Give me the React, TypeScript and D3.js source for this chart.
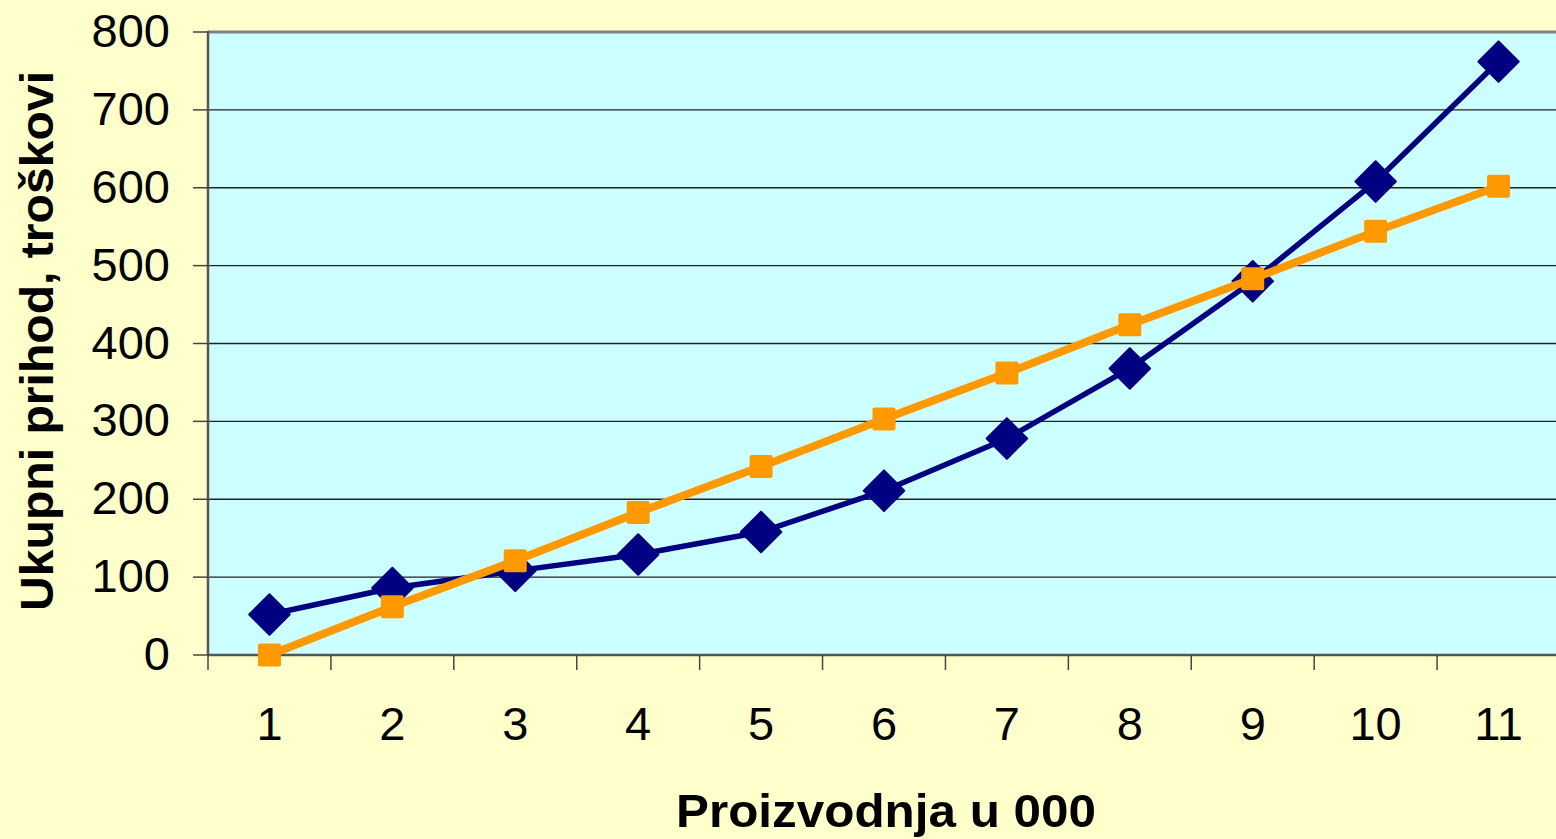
import React from 'react';
import * as d3 from 'd3';

const categories = ['1', '2', '3', '4', '5', '6', '7', '8', '9', '10', '11'];
const costs = [52, 86, 108, 129, 158, 211, 278, 368, 480, 608, 762];
const revenue = [0, 62, 121, 183, 242, 303, 362, 424, 483, 544, 602];
const yTicks = [0, 100, 200, 300, 400, 500, 600, 700, 800];

const W = 1556;
const H = 839;
const plot = { left: 208, top: 32, right: 1560, bottom: 655 };

const App: React.FC = () => {
  const x = d3
    .scaleBand<string>()
    .domain(categories)
    .range([plot.left, plot.right]);
  const y = d3.scaleLinear().domain([0, 800]).range([plot.bottom, plot.top]);
  const cx = (c: string) => (x(c) || 0) + x.bandwidth() / 2;

  const line = d3
    .line<number>()
    .x((_, i) => cx(categories[i]))
    .y((d) => y(d));

  const font = 'Arial, "Liberation Sans", sans-serif';

  return (
    <svg
      width={W}
      height={H}
      style={{ position: 'fixed', left: 0, top: 0, background: '#FFFFCC' }}
    >
      <rect x={0} y={0} width={W} height={H} fill="#FFFFCC" />
      <rect
        x={plot.left}
        y={plot.top}
        width={plot.right - plot.left}
        height={plot.bottom - plot.top}
        fill="#CCFFFF"
      />
      {/* gridlines */}
      {yTicks.slice(1, -1).map((t) => (
        <line
          key={'g' + t}
          x1={plot.left}
          x2={plot.right}
          y1={y(t)}
          y2={y(t)}
          stroke="#222"
          strokeWidth={1.3}
        />
      ))}
      {/* top border */}
      <line x1={plot.left} x2={plot.right} y1={plot.top} y2={plot.top} stroke="#808080" strokeWidth={3} />
      {/* y axis */}
      <line x1={plot.left} x2={plot.left} y1={plot.top - 1} y2={plot.bottom} stroke="#555" strokeWidth={2.5} />
      {yTicks.map((t) => (
        <g key={'y' + t}>
          <line x1={plot.left - 15} x2={plot.left} y1={y(t)} y2={y(t)} stroke="#444" strokeWidth={1.5} />
          <text
            x={170}
            y={y(t) + 15}
            textAnchor="end"
            fontFamily={font}
            fontSize={47}
            fill="#000"
          >
            {t}
          </text>
        </g>
      ))}
      {/* x axis */}
      <line x1={plot.left} x2={plot.right} y1={plot.bottom} y2={plot.bottom} stroke="#555" strokeWidth={2.5} />
      {categories.map((c) => (
        <line
          key={'xt' + c}
          x1={x(c) || 0}
          x2={x(c) || 0}
          y1={plot.bottom}
          y2={plot.bottom + 15}
          stroke="#444"
          strokeWidth={1.5}
        />
      ))}
      {categories.map((c) => (
        <text
          key={'xl' + c}
          x={cx(c)}
          y={740}
          textAnchor="middle"
          fontFamily={font}
          fontSize={47}
          fill="#000"
        >
          {c}
        </text>
      ))}
      {/* series: costs */}
      <path d={line(costs) || ''} fill="none" stroke="#000080" strokeWidth={5.5} strokeLinejoin="round" />
      {costs.map((v, i) => (
        <path
          key={'d' + i}
          d={d3.symbol(d3.symbolSquare, 820)() || ''}
          transform={`translate(${cx(categories[i])},${y(v)}) rotate(45)`}
          fill="#000080"
          stroke="#000080"
          strokeWidth={2}
          strokeLinejoin="round"
        />
      ))}
      {/* series: revenue */}
      <path d={line(revenue) || ''} fill="none" stroke="#FF9900" strokeWidth={8} strokeLinejoin="round" />
      {revenue.map((v, i) => (
        <rect
          key={'s' + i}
          x={cx(categories[i]) - 11.5}
          y={y(v) - 11.5}
          width={23}
          height={23}
          rx={2}
          fill="#FF9900"
        />
      ))}
      {/* axis titles */}
      <text
        x={886}
        y={827}
        textAnchor="middle"
        fontFamily={font}
        fontSize={47}
        fontWeight="bold"
        fill="#000"
        textLength={420}
        lengthAdjust="spacingAndGlyphs"
      >
        Proizvodnja u 000
      </text>
      <text
        transform={`translate(53,341) rotate(-90)`}
        textAnchor="middle"
        fontFamily={font}
        fontSize={47}
        fontWeight="bold"
        fill="#000"
        textLength={540}
        lengthAdjust="spacingAndGlyphs"
      >
        Ukupni prihod, troškovi
      </text>
    </svg>
  );
};

export default App;
